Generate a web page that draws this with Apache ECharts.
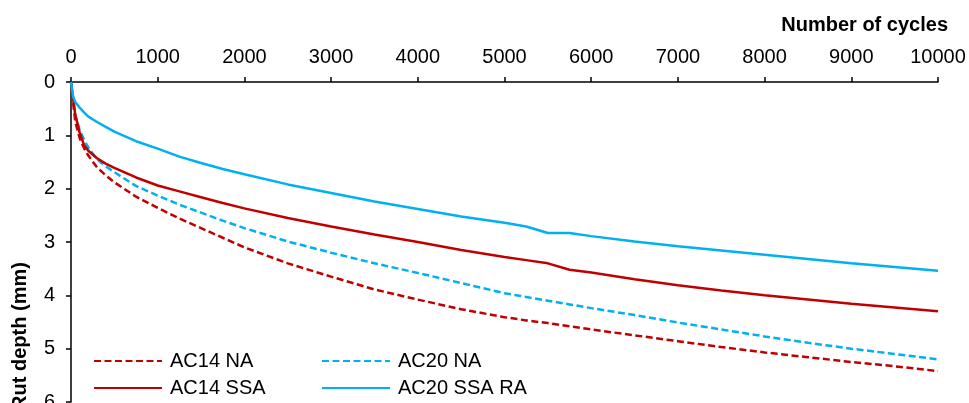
<!DOCTYPE html>
<html>
<head>
<meta charset="utf-8">
<script src="https://cdn.jsdelivr.net/npm/echarts@6/dist/echarts.min.js"></script>
<style>html,body{margin:0;padding:0;background:#fff}#c{width:969px;height:403px}</style>
</head>
<body>
<div id="c"></div>
<script>
var cycles = [0, 25, 50, 100, 150, 200, 300, 400, 500, 750, 1000, 1250, 1500, 1750, 2000, 2500, 3000, 3500, 4000, 4500, 5000, 5250, 5500, 5750, 6000, 6500, 7000, 7500, 8000, 8500, 9000, 9500, 10000];
var ac14NA  = [0, 0.40, 0.75, 1.05, 1.24, 1.38, 1.60, 1.75, 1.88, 2.15, 2.36, 2.56, 2.74, 2.92, 3.10, 3.40, 3.65, 3.89, 4.08, 4.26, 4.41, 4.47, 4.52, 4.58, 4.64, 4.75, 4.86, 4.97, 5.07, 5.16, 5.25, 5.33, 5.42];
var ac20NA  = [0, 0.30, 0.62, 0.90, 1.08, 1.23, 1.45, 1.58, 1.69, 1.95, 2.13, 2.30, 2.45, 2.60, 2.74, 2.99, 3.20, 3.40, 3.58, 3.77, 3.96, 4.03, 4.10, 4.17, 4.24, 4.37, 4.51, 4.64, 4.77, 4.89, 5.00, 5.10, 5.20];
var ac14SSA = [0, 0.33, 0.62, 0.95, 1.18, 1.29, 1.43, 1.53, 1.61, 1.79, 1.94, 2.05, 2.16, 2.27, 2.37, 2.55, 2.71, 2.86, 3.00, 3.15, 3.28, 3.34, 3.40, 3.52, 3.57, 3.70, 3.81, 3.91, 4.00, 4.08, 4.16, 4.23, 4.30];
var ac20SSARA = [0, 0.28, 0.38, 0.48, 0.57, 0.65, 0.75, 0.84, 0.93, 1.11, 1.25, 1.40, 1.52, 1.63, 1.73, 1.92, 2.08, 2.24, 2.38, 2.52, 2.64, 2.71, 2.83, 2.83, 2.89, 2.99, 3.08, 3.16, 3.24, 3.32, 3.40, 3.47, 3.54];
var xTicks = [0, 1000, 2000, 3000, 4000, 5000, 6000, 7000, 8000, 9000, 10000];
var yTicks = [0, 1, 2, 3, 4, 5, 6];
var names = ['AC14 NA', 'AC20 NA', 'AC14 SSA', 'AC20 SSA RA'];

var RED = '#C00000', BLUE = '#00B0F0';
var FONT = 'Liberation Sans, Arial, sans-serif';
function pairs(ys) { return cycles.map(function (x, i) { return [x, ys[i]]; }); }
function mkSeries(name, ys, color, dashed) {
  return {
    name: name, type: 'line', data: pairs(ys), symbol: 'none', smooth: false,
    lineStyle: { color: color, width: 2.5, type: dashed ? [7, 3.5] : 'solid' },
    itemStyle: { color: color }, silent: true, animation: false
  };
}
function mkLegend(name, left, top) {
  return {
    data: [name], left: left, top: top, itemWidth: 68, itemHeight: 14, padding: 0,
    selectedMode: false,
    itemStyle: { opacity: 0 },
    textStyle: { fontSize: 20, color: '#000', fontFamily: FONT, padding: [0, 0, 0, 3] }
  };
}
var chart = echarts.init(document.getElementById('c'), null, { renderer: 'canvas' });
chart.setOption({
  animation: false,
  grid: { left: 71, right: 31, top: 82, bottom: 1, containLabel: false, outerBoundsMode: 'none' },
  xAxis: {
    type: 'value', position: 'top', min: xTicks[0], max: xTicks[xTicks.length - 1], interval: 1000,
    axisLine: { lineStyle: { color: '#000', width: 1.5 } },
    axisTick: { show: true, length: 5, lineStyle: { color: '#000', width: 1.5 } },
    axisLabel: { fontSize: 20, color: '#000', fontFamily: FONT, margin: 15, formatter: function (v) { return String(v); } },
    splitLine: { show: false }
  },
  yAxis: {
    type: 'value', inverse: true, min: yTicks[0], max: yTicks[yTicks.length - 1], interval: 1,
    axisLine: { show: true, lineStyle: { color: '#000', width: 1.5 } },
    axisTick: { show: true, length: 5, lineStyle: { color: '#000', width: 1.5 } },
    axisLabel: { fontSize: 20, color: '#000', fontFamily: FONT, margin: 16 },
    splitLine: { show: false }
  },
  legend: [
    mkLegend(names[0], 93, 351),
    mkLegend(names[1], 321, 351),
    mkLegend(names[2], 93, 378),
    mkLegend(names[3], 321, 378)
  ],
  graphic: [
    { type: 'text', right: 21, top: 15, style: { text: 'Number of cycles', font: 'bold 20px ' + FONT, fill: '#000' } },
    { type: 'text', x: 20, y: 336, rotation: Math.PI / 2,
      style: { text: 'Rut depth (mm)', font: 'bold 20px ' + FONT, fill: '#000', align: 'center', verticalAlign: 'middle' } }
  ],
  series: [
    mkSeries(names[0], ac14NA, RED, true),
    mkSeries(names[1], ac20NA, BLUE, true),
    mkSeries(names[2], ac14SSA, RED, false),
    mkSeries(names[3], ac20SSARA, BLUE, false)
  ]
});
</script>
</body>
</html>
